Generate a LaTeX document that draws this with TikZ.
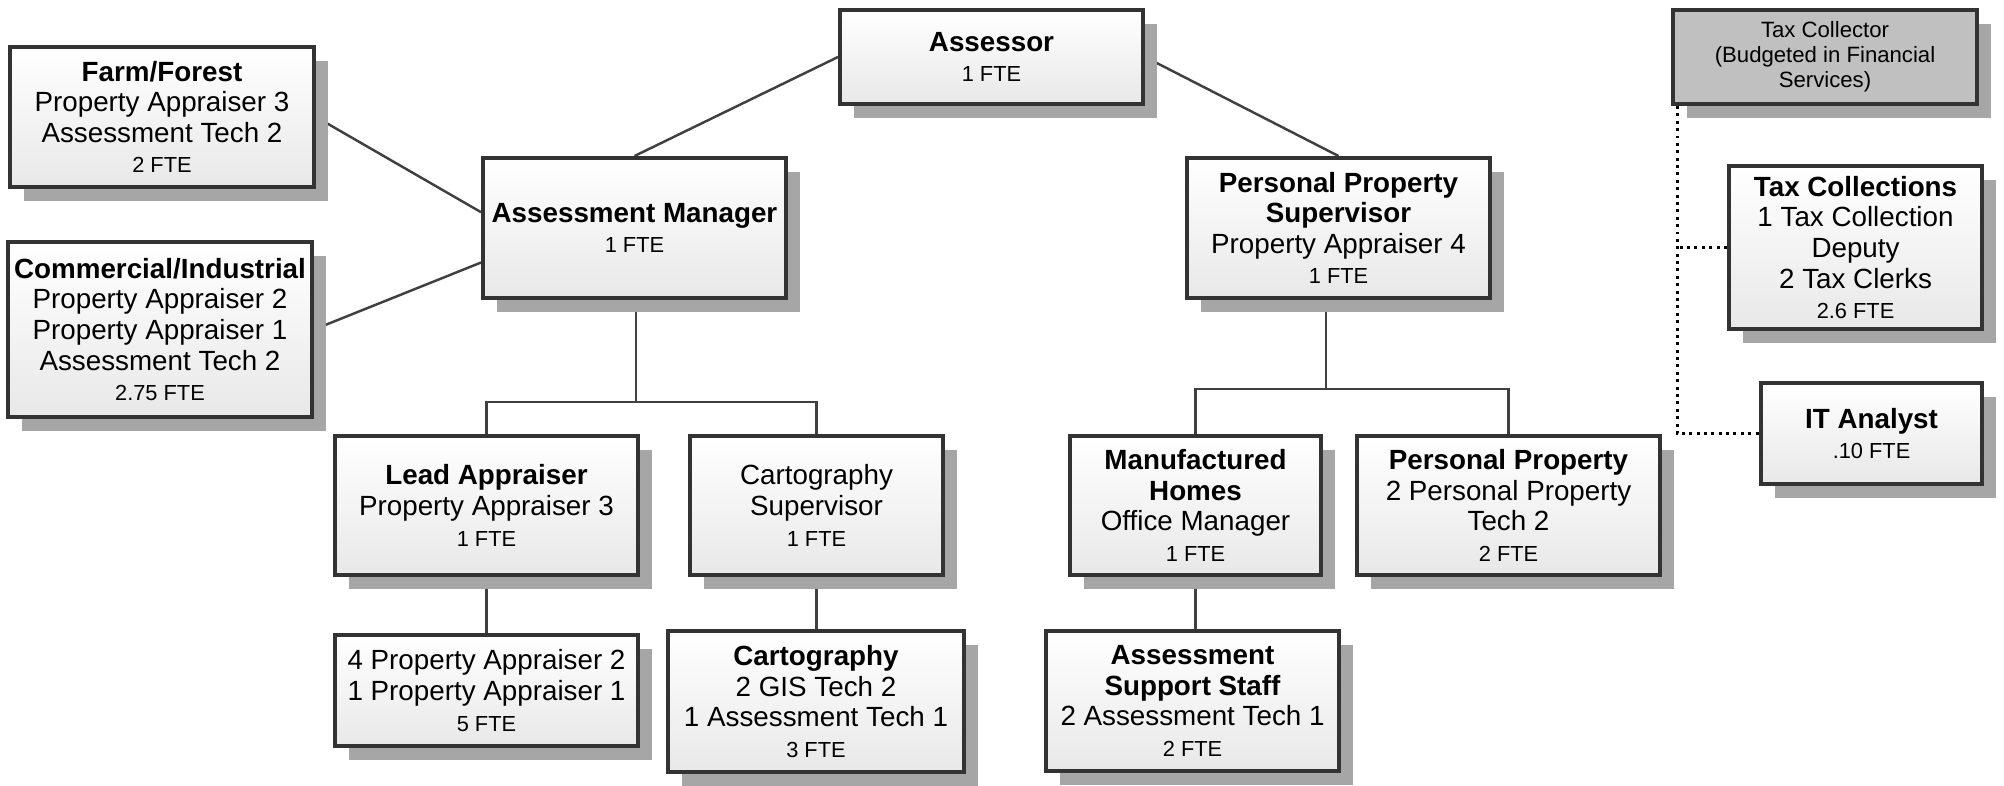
\documentclass[tikz,border=0pt]{standalone}
\usepackage{fontspec}
\setmainfont{Liberation Sans}
\usepackage{tikz}
\usetikzlibrary{shadows,backgrounds,calc}
\usepackage{xcolor}
\definecolor{boxline}{HTML}{333333}
\definecolor{linkline}{HTML}{404040}
\definecolor{shadowgrey}{HTML}{A6A6A6}
\definecolor{boxfill}{HTML}{E8E8E8}
\definecolor{collectorfill}{HTML}{C0C0C0}
\newcommand{\fte}[1]{{\fontsize{6.2}{7.4}\selectfont #1}}
\tikzstyle{orgbox} = [draw=boxline, line width=1.1pt, rectangle,
    top color=white, bottom color=boxfill, align=center, inner sep=1pt,
    font=\fontsize{7.9}{8.7}\selectfont,
    drop shadow={shadow xshift=0.14cm, shadow yshift=-0.14cm, fill=shadowgrey, opacity=1}]
\tikzstyle{collectorbox} = [orgbox, top color=collectorfill, bottom color=collectorfill,
    font=\fontsize{6.3}{7.1}\selectfont]
\tikzstyle{link} = [draw=linkline, line width=0.7pt]
\tikzstyle{dottedlink} = [draw=black, line width=0.85pt, dash pattern=on 0.85pt off 1.25pt]

\begin{document}
\begin{tikzpicture}[x=0.01cm, y=-0.01cm]
    \useasboundingbox (0,0) rectangle (2004,785);

    \node [orgbox, minimum width=3.03cm, minimum height=0.94cm] (assessor) at (991.5,57)
        {\textbf{Assessor}\\\fte{1 FTE}};
    \node [collectorbox, minimum width=3.04cm, minimum height=0.94cm] (collector) at (1825,57)
        {Tax Collector\\(Budgeted in Financial\\Services)};

    \node [orgbox, minimum width=3.04cm, minimum height=1.40cm] (farm) at (162,117)
        {\textbf{Farm/Forest}\\Property Appraiser 3\\Assessment Tech 2\\\fte{2 FTE}};
    \node [orgbox, minimum width=3.04cm, minimum height=1.75cm] (commercial) at (160,329.5)
        {\textbf{Commercial/Industrial}\\Property Appraiser 2\\Property Appraiser 1\\Assessment Tech 2\\\fte{2.75 FTE}};
    \node [orgbox, minimum width=3.03cm, minimum height=1.40cm] (manager) at (634.5,228)
        {\textbf{Assessment Manager}\\\fte{1 FTE}};
    \node [orgbox, minimum width=3.03cm, minimum height=1.40cm] (ppsuper) at (1338.5,228)
        {\textbf{Personal Property}\\\textbf{Supervisor}\\Property Appraiser 4\\\fte{1 FTE}};

    \node [orgbox, minimum width=2.53cm, minimum height=1.63cm] (collections) at (1855.5,247.5)
        {\textbf{Tax Collections}\\1 Tax Collection\\Deputy\\2 Tax Clerks\\\fte{2.6 FTE}};
    \node [orgbox, minimum width=2.21cm, minimum height=1.01cm] (itanalyst) at (1871.5,433.5)
        {\textbf{IT Analyst}\\\fte{.10 FTE}};

    \node [orgbox, minimum width=3.03cm, minimum height=1.39cm] (lead) at (486.5,505.5)
        {\textbf{Lead Appraiser}\\Property Appraiser 3\\\fte{1 FTE}};
    \node [orgbox, minimum width=2.53cm, minimum height=1.39cm] (cartsuper) at (816.5,505.5)
        {Cartography\\Supervisor\\\fte{1 FTE}};
    \node [orgbox, minimum width=2.51cm, minimum height=1.39cm] (manufactured) at (1195.5,505.5)
        {\textbf{Manufactured}\\\textbf{Homes}\\Office Manager\\\fte{1 FTE}};
    \node [orgbox, minimum width=3.03cm, minimum height=1.39cm] (personal) at (1508.5,505.5)
        {\textbf{Personal Property}\\2 Personal Property\\Tech 2\\\fte{2 FTE}};

    \node [orgbox, minimum width=3.03cm, minimum height=1.11cm] (appraisers) at (486.5,690.5)
        {4 Property Appraiser 2\\1 Property Appraiser 1\\\fte{5 FTE}};
    \node [orgbox, minimum width=2.96cm, minimum height=1.41cm] (cartography) at (816,701.5)
        {\textbf{Cartography}\\2 GIS Tech 2\\1 Assessment Tech 1\\\fte{3 FTE}};
    \node [orgbox, minimum width=2.93cm, minimum height=1.40cm] (support) at (1192.5,701)
        {\textbf{Assessment}\\\textbf{Support Staff}\\2 Assessment Tech 1\\\fte{2 FTE}};

    \begin{pgfonlayer}{background}
        \draw [link] (assessor.west) -- (manager.north);
        \draw [link] (assessor.east) -- (ppsuper.north);
        \draw [link] (farm.east) -- ($(manager.north west)!0.39!(manager.south west)$);
        \draw [link] (commercial.east) -- ($(manager.north west)!0.74!(manager.south west)$);

        \coordinate (managerjoin) at (636,402);
        \draw [link] (manager.south -| managerjoin) -- (managerjoin);
        \draw [link] (lead.north) |- (managerjoin) -| (cartsuper.north);
        \draw [link] (lead.south) -- (appraisers.north);
        \draw [link] (cartsuper.south) -- (cartsuper.south |- cartography.north);

        \coordinate (ppsjoin) at (1326,389);
        \draw [link] (ppsuper.south -| ppsjoin) -- (ppsjoin);
        \draw [link] (manufactured.north) |- (ppsjoin) -| (personal.north);
        \draw [link] (manufactured.south) -- (manufactured.south |- support.north);

        \coordinate (collectorline) at ($(collector.south west)+(6,0)$);
        \draw [dottedlink] (collectorline) |- (itanalyst.west);
        \draw [dottedlink] (collections.west) -- (collections.west -| collectorline);
    \end{pgfonlayer}
\end{tikzpicture}
\end{document}
